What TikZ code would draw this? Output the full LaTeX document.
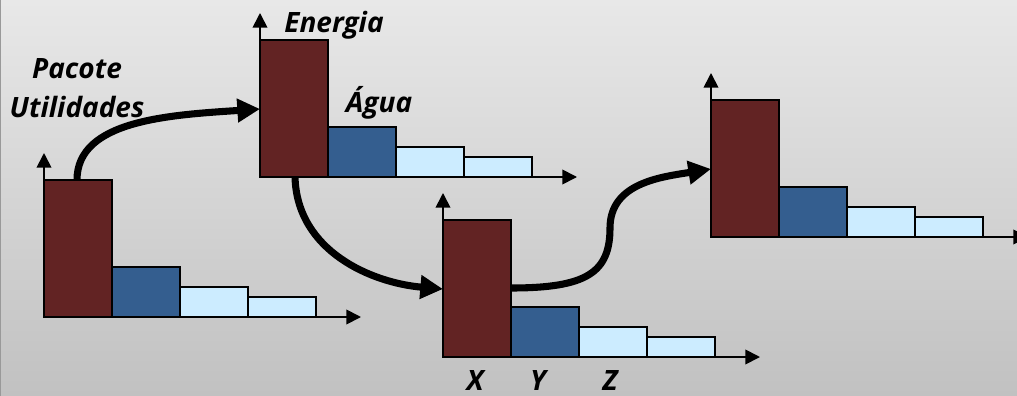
\documentclass[tikz,border=0pt]{standalone}
\usepackage{fontspec}
\setmainfont{Open Sans}
\usetikzlibrary{arrows.meta}
\definecolor{barvinho}{RGB}{98,35,35}
\definecolor{barazul}{RGB}{52,94,143}
\definecolor{barclaro}{RGB}{204,236,255}
\definecolor{fundotopo}{RGB}{232,232,232}
\definecolor{fundobase}{RGB}{193,193,193}

\begin{document}
\begin{tikzpicture}[x=0.75pt,y=-0.75pt,
  barra/.style={draw=black,line width=1.5pt},
  eixo/.style={line width=1.3pt,-{Triangle[length=11pt,width=11pt]}},
  fluxo/.style={line width=5.3pt,-{Triangle[length=17pt,width=17pt]}},
  rotulo/.style={font=\fontsize{21}{25}\selectfont\bfseries\itshape,anchor=base,inner sep=0pt}]
  \clip (0,0) rectangle (1017,396);
  \shade[top color=fundotopo,bottom color=fundobase] (0,0) rectangle (1017,396);
  \draw[gray!80,line width=1pt] (0.6,0) -- (0.6,396);
  % os quatro graficos de barras
  \foreach \g/\ox/\oy in {g1/44/317,g2/260/177,g3/443/357,g4/711/237}{
    \begin{scope}[shift={(\ox,\oy)}]
      \draw[eixo] (0,0) -- (0,-164);
      \draw[eixo] (0,0) -- (317,0);
      \filldraw[barra,fill=barvinho] (0,0) rectangle (68,-137);
      \filldraw[barra,fill=barazul] (68,0) rectangle (136,-50);
      \filldraw[barra,fill=barclaro] (136,0) rectangle (204,-30);
      \filldraw[barra,fill=barclaro] (204,0) rectangle (272,-20);
      \coordinate (\g-t) at (33,-137);
      \coordinate (\g-b) at (35,0);
      \coordinate (\g-l) at (0,-68);
      \coordinate (\g-r) at (68,-69);
    \end{scope}
  }
  \node[rotulo] (pacote) at (77,78) {Pacote};
  \node[rotulo] (util) at (77,117) {Utilidades};
  \node[rotulo] (energia) at (334,32) {Energia};
  \node[rotulo] (agua) at (379,112) {Água};
  \node[rotulo] (lx) at (475,390) {X};
  \node[rotulo] (ly) at (538,390) {Y};
  \node[rotulo] (lz) at (610,390) {Z};
  % setas de fluxo
  \draw[fluxo] (g1-t) .. controls +(0,-60) and +(-90,6) .. (g2-l);
  \draw[fluxo] (g2-b) .. controls +(2,75) and +(-70,-6) .. (g3-l);
  \draw[fluxo] (g3-r) .. controls +(75,0) and +(0,45) .. (610,228)
    .. controls +(0,-45) and +(-50,8) .. (g4-l);
\end{tikzpicture}
\end{document}
